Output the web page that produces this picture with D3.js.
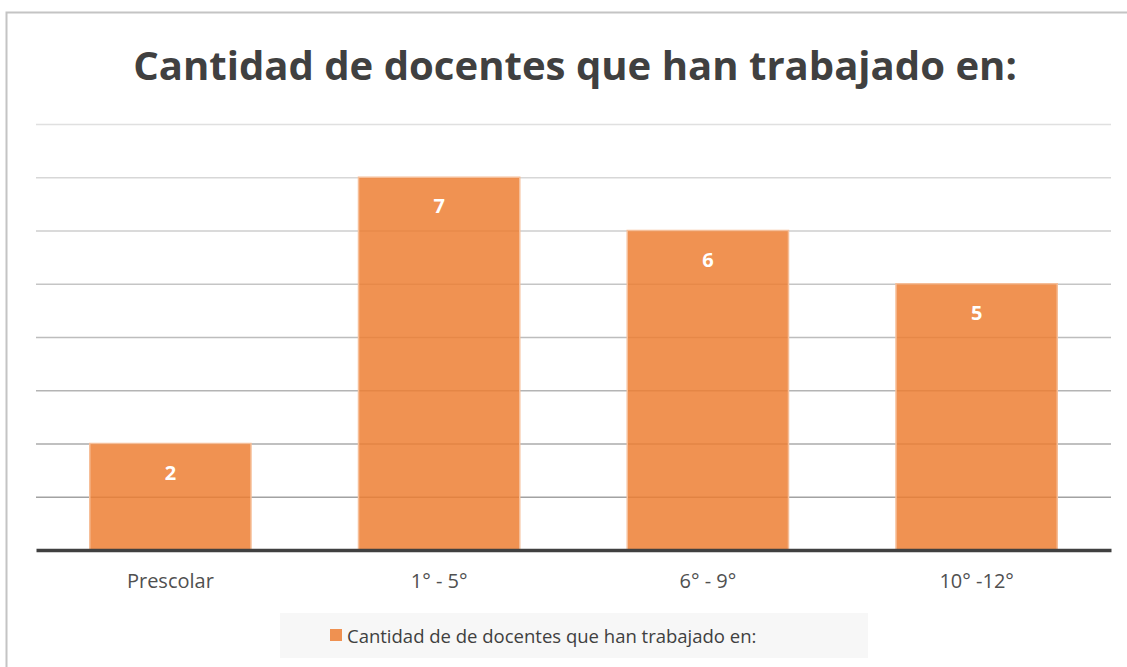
<!DOCTYPE html>
<html>
<head>
<meta charset="utf-8">
<script src="https://cdn.jsdelivr.net/npm/d3@7"></script>
<style>
  body { margin: 0; background: #fff; }
  svg { display: block; }
</style>
</head>
<body>
<div id="chart"></div>
<script>
// chart data
const title = 'Cantidad de docentes que han trabajado en:';
const seriesName = 'Cantidad de de docentes que han trabajado en:';
const categories = ['Prescolar', '1° - 5°', '6° - 9°', '10° -12°'];
const values = [2, 7, 6, 5];
const yTicks = [0, 1, 2, 3, 4, 5, 6, 7, 8];

const width = 1127, height = 667;

const svg = d3.select('#chart')
    .append('svg')
    .attr('width', width)
    .attr('height', height);

// outer frame (right/bottom edges run off the picture)
svg.append('rect')
    .attr('x', 6.5)
    .attr('y', 12.5)
    .attr('width', 1140)
    .attr('height', 700)
    .attr('fill', '#fff')
    .attr('stroke', '#c4c4c4')
    .attr('stroke-width', 2);

// plot area
const margin = {top: 124, right: 16, bottom: 117, left: 36};
const graphWidth = width - margin.left - margin.right;
const graphHeight = height - margin.top - margin.bottom;

const graph = svg.append('g')
    .attr('transform', `translate(${margin.left}, ${margin.top})`);

const x = d3.scaleBand()
    .domain(categories)
    .range([0, graphWidth])
    .paddingInner(0.4)
    .paddingOuter(0.2);

const y = d3.scaleLinear()
    .domain([0, 8])
    .range([graphHeight, 0]);

// gridlines get slightly darker towards the bottom
const gridColor = d3.scaleLinear()
    .domain([1, 8])
    .range(['#a2a2a2', '#e0e0e0']);

graph.selectAll('line.grid')
    .data(yTicks.filter(d => d > 0))
    .enter()
    .append('line')
    .attr('class', 'grid')
    .attr('x1', 0)
    .attr('x2', graphWidth)
    .attr('y1', d => y(d) + 0.5)
    .attr('y2', d => y(d) + 0.5)
    .attr('stroke', d => gridColor(d))
    .attr('stroke-width', 1.5);

// bars
graph.selectAll('rect.bar')
    .data(values)
    .enter()
    .append('rect')
    .attr('class', 'bar')
    .attr('x', (d, i) => x(categories[i]))
    .attr('y', d => y(d))
    .attr('width', x.bandwidth())
    .attr('height', d => graphHeight - y(d))
    .attr('fill', '#ED7D31')
    .attr('fill-opacity', 0.84)
    .attr('stroke', '#F6BE98')
    .attr('stroke-width', 1.5);

// value labels
graph.selectAll('text.val')
    .data(values)
    .enter()
    .append('text')
    .attr('class', 'val')
    .attr('x', (d, i) => x(categories[i]) + x.bandwidth() / 2)
    .attr('y', d => y(d) + 36)
    .attr('text-anchor', 'middle')
    .attr('fill', '#fff')
    .style('font-family', '"Open Sans", sans-serif')
    .style('font-weight', 'bold')
    .style('font-size', '20px')
    .text(d => d);

// x axis (baseline + labels)
const xAxis = d3.axisBottom(x).tickSize(0).tickPadding(24);
const xAxisGroup = graph.append('g')
    .attr('transform', `translate(0, ${graphHeight})`)
    .call(xAxis);

xAxisGroup.select('.domain')
    .attr('stroke', '#404040')
    .attr('stroke-width', 3.5);

xAxisGroup.selectAll('text')
    .attr('fill', '#505050')
    .style('font-family', '"Open Sans", sans-serif')
    .style('font-size', '20px');

// title
const titleText = svg.append('text')
    .attr('x', 575)
    .attr('y', 80)
    .attr('text-anchor', 'middle')
    .attr('fill', '#404040')
    .style('font-family', '"Open Sans", sans-serif')
    .style('font-weight', 'bold')
    .style('font-size', '44px')
    .text(title);
const tw = titleText.node().getComputedTextLength();
titleText.style('font-size', (44 * 884 / tw) + 'px');

// legend
const legend = svg.append('g');
legend.append('rect')
    .attr('x', 280)
    .attr('y', 613)
    .attr('width', 588)
    .attr('height', 45)
    .attr('fill', '#f7f7f7');
legend.append('rect')
    .attr('x', 330)
    .attr('y', 629)
    .attr('width', 12)
    .attr('height', 12)
    .attr('fill', '#ED7D31')
    .attr('fill-opacity', 0.84);
legend.append('text')
    .attr('x', 347)
    .attr('y', 643)
    .attr('fill', '#404040')
    .style('font-family', '"Open Sans", sans-serif')
    .style('font-size', '18.5px')
    .text(seriesName);
</script>
</body>
</html>
